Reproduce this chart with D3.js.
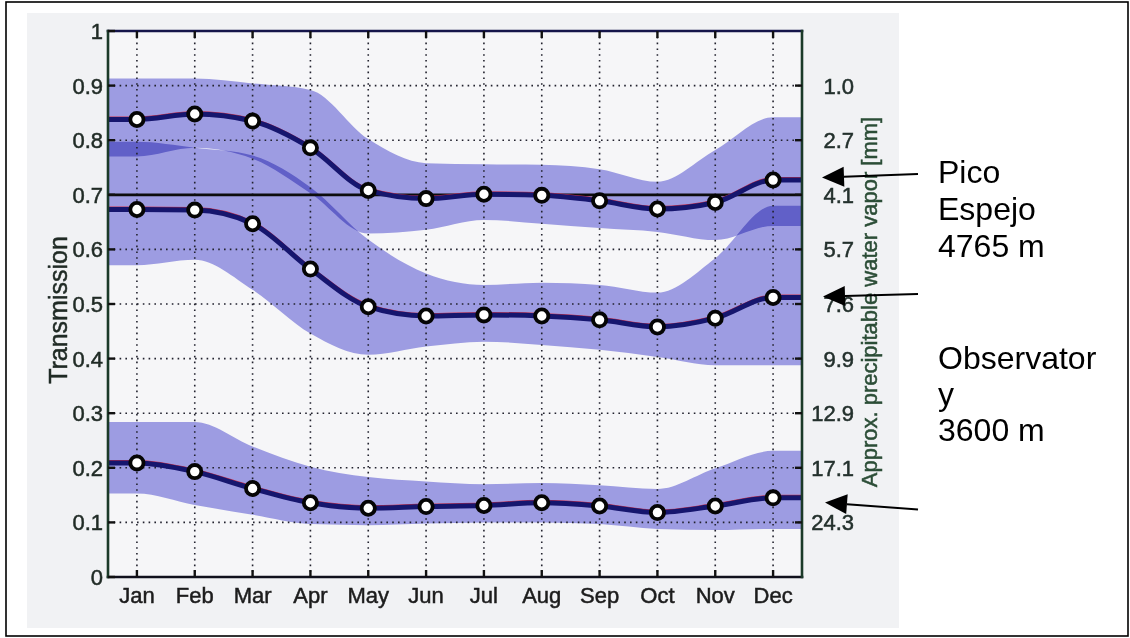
<!DOCTYPE html>
<html>
<head>
<meta charset="utf-8">
<script src="https://cdn.jsdelivr.net/npm/d3@7"></script>
<style>
  body { margin: 0; background: #ffffff; }
  text { font-family: "Liberation Sans", Arial, Helvetica, sans-serif; }
</style>
</head>
<body>
<svg id="chart" width="1130" height="638"></svg>
<script>
// ---- data -------------------------------------------------------------
const months = ["Jan","Feb","Mar","Apr","May","Jun","Jul","Aug","Sep","Oct","Nov","Dec"];

const yTicks = [0, 0.1, 0.2, 0.3, 0.4, 0.5, 0.6, 0.7, 0.8, 0.9, 1];
const yTickLabels = ["0","0.1","0.2","0.3","0.4","0.5","0.6","0.7","0.8","0.9","1"];

// right-hand scale: approximate precipitable water vapour for each transmission level
const pwvTicks  = [0.1, 0.2, 0.3, 0.4, 0.5, 0.6, 0.7, 0.8, 0.9];
const pwvLabels = ["24.3","17.1","12.9","9.9","7.6","5.7","4.1","2.7","1.0"];

const referenceLevel = 0.7;

// Pico Espejo, 4765 m
const picoMean = [0.838, 0.848, 0.835, 0.786, 0.708, 0.693, 0.701, 0.699, 0.689, 0.674, 0.686, 0.727];
const picoHigh = [0.913, 0.913, 0.904, 0.892, 0.802, 0.758, 0.756, 0.755, 0.747, 0.724, 0.782, 0.842];
const picoLow  = [0.770, 0.786, 0.766, 0.703, 0.629, 0.636, 0.654, 0.647, 0.639, 0.632, 0.617, 0.643];

// middle curve
const midMean = [0.673, 0.672, 0.647, 0.564, 0.495, 0.478, 0.480, 0.478, 0.471, 0.458, 0.474, 0.512];
const midHigh = [0.797, 0.786, 0.772, 0.714, 0.618, 0.556, 0.535, 0.539, 0.535, 0.521, 0.584, 0.680];
const midLow  = [0.571, 0.581, 0.526, 0.446, 0.407, 0.422, 0.431, 0.425, 0.416, 0.403, 0.388, 0.388];

// Observatory, 3600 m
const obsMean = [0.209, 0.193, 0.162, 0.136, 0.126, 0.129, 0.131, 0.136, 0.130, 0.118, 0.130, 0.145];
const obsHigh = [0.284, 0.284, 0.239, 0.202, 0.183, 0.175, 0.170, 0.172, 0.168, 0.161, 0.199, 0.231];
const obsLow  = [0.153, 0.132, 0.114, 0.097, 0.095, 0.098, 0.100, 0.100, 0.097, 0.088, 0.086, 0.088];

// ---- layout -----------------------------------------------------------
const svg = d3.select("#chart");
const plot = { left: 108, right: 802, top: 31, bottom: 577 };

const x = d3.scalePoint().domain(months).range([plot.left, plot.right]).padding(0.5);
const y = d3.scaleLinear().domain([0, 1]).range([plot.bottom, plot.top]);

// outer frame and the chart panel
svg.append("rect").attr("x", 6).attr("y", 2).attr("width", 1122).attr("height", 634)
  .attr("fill", "#ffffff").attr("stroke", "#000").attr("stroke-width", 1.6);
svg.append("rect").attr("x", 27).attr("y", 13).attr("width", 872).attr("height", 615)
  .attr("fill", "#f1f2f4");
svg.append("rect").attr("x", plot.left).attr("y", plot.top)
  .attr("width", plot.right - plot.left).attr("height", plot.bottom - plot.top)
  .attr("fill", "#f6f6f8");

svg.append("clipPath").attr("id", "plotClip").append("rect")
  .attr("x", plot.left).attr("y", plot.top)
  .attr("width", plot.right - plot.left).attr("height", plot.bottom - plot.top);

// series rows, extended flat to both edges of the axes
function rows(mean, lo, hi) {
  const r = months.map((m, i) => ({ x: x(m), mean: mean[i], lo: lo[i], hi: hi[i] }));
  const first = r[0], last = r[r.length - 1];
  return [{ ...first, x: x.range()[0] }, ...r, { ...last, x: x.range()[1] }];
}
const series = [
  rows(picoMean, picoLow, picoHigh),
  rows(midMean, midLow, midHigh),
  rows(obsMean, obsLow, obsHigh)
];

// ---- bands ------------------------------------------------------------
const bandG = svg.append("g").attr("clip-path", "url(#plotClip)").style("isolation", "isolate");
const area = d3.area().x(d => d.x).y0(d => y(d.lo)).y1(d => y(d.hi)).curve(d3.curveMonotoneX);
series.forEach(s => {
  bandG.append("path").attr("d", area(s))
    .attr("fill", "#9d9ce2")
    .style("mix-blend-mode", "multiply");
});

// ---- grid -------------------------------------------------------------
const grid = svg.append("g").attr("stroke", "#22222e").attr("stroke-width", 1.6)
  .attr("stroke-dasharray", "1.6 4.2");
months.forEach(m => {
  grid.append("line").attr("x1", x(m)).attr("x2", x(m))
    .attr("y1", plot.top).attr("y2", plot.bottom);
});
yTicks.filter(t => t > 0 && t < 1 && t !== referenceLevel).forEach(t => {
  grid.append("line").attr("x1", plot.left).attr("x2", plot.right)
    .attr("y1", y(t)).attr("y2", y(t));
});

// reference level
svg.append("line").attr("x1", plot.left).attr("x2", plot.right)
  .attr("y1", y(referenceLevel)).attr("y2", y(referenceLevel))
  .attr("stroke", "#0d0d0d").attr("stroke-width", 2.8);

// ---- mean curves ------------------------------------------------------
const line = d3.line().x(d => d.x).y(d => y(d.mean)).curve(d3.curveMonotoneX);
const lineG = svg.append("g").attr("clip-path", "url(#plotClip)");
series.forEach(s => {
  lineG.append("path").attr("d", line(s)).attr("fill", "none")
    .attr("stroke", "#c8304a").attr("stroke-width", 1.6)
    .attr("transform", "translate(0,-2.2)");
  lineG.append("path").attr("d", line(s)).attr("fill", "none")
    .attr("stroke", "#16166e").attr("stroke-width", 5)
    .attr("stroke-linejoin", "round");
});
series.forEach(s => {
  svg.append("g").selectAll("circle").data(s.slice(1, -1)).join("circle")
    .attr("cx", d => d.x).attr("cy", d => y(d.mean)).attr("r", 6.6)
    .attr("fill", "#ffffff").attr("stroke", "#050505").attr("stroke-width", 3.8);
});

// ---- axes frame and ticks ---------------------------------------------
const frame = [
  { x1: plot.left, y1: plot.top, x2: plot.right, y2: plot.top, c: "#15154a" },
  { x1: plot.left, y1: plot.bottom, x2: plot.right, y2: plot.bottom, c: "#10101c" },
  { x1: plot.left, y1: plot.top, x2: plot.left, y2: plot.bottom, c: "#1b3a28" },
  { x1: plot.right, y1: plot.top, x2: plot.right, y2: plot.bottom, c: "#1b3a28" }
];
frame.forEach(f => svg.append("line").attr("x1", f.x1).attr("y1", f.y1)
  .attr("x2", f.x2).attr("y2", f.y2).attr("stroke", f.c).attr("stroke-width", 2.6)
  .attr("stroke-linecap", "square"));

const ticks = svg.append("g").attr("stroke", "#111").attr("stroke-width", 2.4);
months.forEach(m => {
  ticks.append("line").attr("x1", x(m)).attr("x2", x(m)).attr("y1", plot.bottom).attr("y2", plot.bottom - 7);
  ticks.append("line").attr("x1", x(m)).attr("x2", x(m)).attr("y1", plot.top).attr("y2", plot.top + 7);
});
yTicks.forEach(t => {
  ticks.append("line").attr("x1", plot.left).attr("x2", plot.left + 7).attr("y1", y(t)).attr("y2", y(t));
});
pwvTicks.forEach(t => {
  ticks.append("line").attr("x1", plot.right).attr("x2", plot.right - 7).attr("y1", y(t)).attr("y2", y(t));
});

// ---- labels -----------------------------------------------------------
const fs = 22;
const heavy = sel => sel.attr("stroke-width", 0.5).attr("paint-order", "stroke");

heavy(svg.append("g").selectAll("text").data(months).join("text")
  .attr("x", d => x(d)).attr("y", 603).attr("text-anchor", "middle")
  .attr("font-size", fs).attr("fill", "#1c1c1c").attr("stroke", "#1c1c1c").text(d => d));

heavy(svg.append("g").selectAll("text").data(yTicks).join("text")
  .attr("x", 103).attr("y", d => y(d)).attr("dy", "0.36em").attr("text-anchor", "end")
  .attr("font-size", fs).attr("fill", "#1f2a24").attr("stroke", "#1f2a24").text((d, i) => yTickLabels[i]));

heavy(svg.append("g").selectAll("text").data(pwvTicks).join("text")
  .attr("x", 854).attr("y", d => y(d)).attr("dy", "0.36em").attr("text-anchor", "end")
  .attr("font-size", fs).attr("fill", "#23302c").attr("stroke", "#23302c").text((d, i) => pwvLabels[i]));

heavy(svg.append("text").attr("transform", "translate(67,310) rotate(-90)")
  .attr("text-anchor", "middle").attr("font-size", 25).attr("fill", "#1f2a24").attr("stroke", "#1f2a24")
  .text("Transmission"));

heavy(svg.append("text").attr("transform", "translate(877,302) rotate(-90)")
  .attr("text-anchor", "middle").attr("font-size", 22).attr("fill", "#2b4d36").attr("stroke", "#2b4d36")
  .text("Approx. precipitable water vapor [mm]"));

// ---- site annotations -------------------------------------------------
function arrow(x1, y1, x2, y2) {
  const ang = Math.atan2(y2 - y1, x2 - x1);
  const len = 22, half = 10;
  const bx = x2 - len * Math.cos(ang), by = y2 - len * Math.sin(ang);
  svg.append("line").attr("x1", x1).attr("y1", y1).attr("x2", bx).attr("y2", by)
    .attr("stroke", "#000").attr("stroke-width", 2);
  const px = -Math.sin(ang) * half, py = Math.cos(ang) * half;
  svg.append("path")
    .attr("d", `M${x2},${y2}L${bx + px},${by + py}L${bx - px},${by - py}Z`)
    .attr("fill", "#000");
}
arrow(918, 174, 822, 177.5);
arrow(918, 294, 823, 296.5);
arrow(918, 509.5, 825, 502.5);

const notes = [
  { text: "Pico", y: 183 },
  { text: "Espejo", y: 219.7 },
  { text: "4765 m", y: 256.5 },
  { text: "Observator", y: 368.5 },
  { text: "y", y: 404.5 },
  { text: "3600 m", y: 440.7 }
];
svg.append("g").selectAll("text").data(notes).join("text")
  .attr("x", 938).attr("y", d => d.y).attr("font-size", 32).attr("fill", "#000")
  .text(d => d.text);
</script>
</body>
</html>
